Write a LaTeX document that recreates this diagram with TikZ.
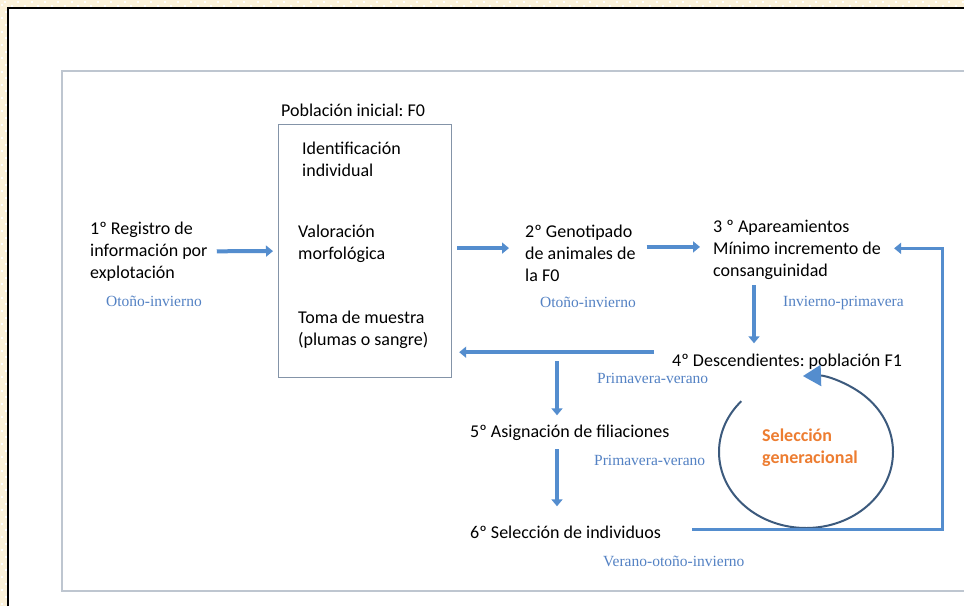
\documentclass[tikz,border=0pt]{standalone}
\usepackage{fontspec}
\setmainfont{Carlito}
\newfontfamily\tiempos{Liberation Serif}
\usetikzlibrary{arrows.meta, calc, positioning}
\frenchspacing

\definecolor{azulflecha}{RGB}{84,141,206}
\definecolor{azultexto}{RGB}{84,130,196}
\definecolor{naranja}{RGB}{237,125,49}
\definecolor{gris}{RGB}{132,148,168}
\definecolor{crema}{RGB}{252,242,218}
\definecolor{circulo}{RGB}{60,90,125}
\definecolor{marcoazul}{RGB}{190,198,208}

\tikzset{
  texto/.style={font=\fontsize{18}{22}\selectfont, inner sep=0pt, align=left, anchor=north west},
  linea/.style={font=\fontsize{18}{22}\selectfont, inner sep=0pt, anchor=base west},
  epoca/.style={font=\tiempos\fontsize{15.5}{18}\selectfont, text=azultexto, inner sep=0pt, anchor=base west},
  flecha/.style={draw=azulflecha, line width=4pt, -{Triangle[length=7pt,width=11pt]}},
  vuelta/.style={draw=azulflecha, line width=3.5pt, -{Triangle[length=7pt,width=11pt]}},
}

\begin{document}
\begin{tikzpicture}[x=1pt, y=-1pt]
  \useasboundingbox (0,0) rectangle (964,606);
  % fondo y marcos
  \fill[crema] (0,0) rectangle (964,606);
  \foreach \i in {0,...,72} {
    \fill[white] (\i*13.3+4,1) rectangle ++(2,2);
    \fill[white] (\i*13.3+10.6,5) rectangle ++(2,2);
  }
  \foreach \j in {0,...,45} {
    \fill[white] (1,\j*13.3+4) rectangle ++(2,2);
    \fill[white] (5,\j*13.3+10.6) rectangle ++(2,2);
  }
  \fill[white] (8,8) rectangle (964,606);
  \draw[black, line width=1.6pt] (8,606) -- (8,8) -- (964,8);
  \draw[marcoazul, line width=1.2pt] (964,71) -- (62,71) -- (62,591) -- (964,591);

  % poblacion inicial
  \node[linea] (pobltit) at (281,116) {Población inicial: F0};
  \node[draw=gris, line width=1.2pt, minimum width=173pt, minimum height=253pt,
        anchor=north west, inner sep=0pt] (pobl) at (278,124) {};
  \node[texto] (ident) at (302,142) {Identificación\\individual};
  \node[texto] (valor) at (298,225) {Valoración\\morfológica};
  \node[texto] (toma)  at (298,310.4) {Toma de muestra\\(plumas o sangre)};

  % pasos
  \node[texto] (reg)  at (90,221.4)  {1º Registro de\\información por\\explotación};
  \node[texto] (geno) at (525,224.4) {2º Genotipado\\de animales de\\la F0};
  \node[texto] (apar) at (713,220.4) {3 º Apareamientos\\Mínimo incremento de\\consanguinidad};
  \node[linea] (desc) at (672,366) {4º Descendientes: población F1};
  \node[linea] (asig) at (470,437) {5º Asignación de filiaciones};
  \node[linea] (sel6) at (470,538) {6º Selección de individuos};

  % epocas
  \node[epoca] (otono1)   at (106,306) {Otoño-invierno};
  \node[epoca] (otono2)   at (540,307) {Otoño-invierno};
  \node[epoca] (invprim)  at (783,306) {Invierno-primavera};
  \node[epoca] (privera1) at (597,383) {Primavera-verano};
  \node[epoca] (privera2) at (594,465) {Primavera-verano};
  \node[epoca] (veroto)   at (603,566) {Verano-otoño-invierno};

  % ciclo
  \coordinate (cen) at (806,452);
  \node[texto, font=\bfseries\fontsize{18}{22}\selectfont, text=naranja] (selgen) at (762,429) {Selección\\generacional};
  \draw[circulo, line width=2pt, -{Triangle[length=18pt,width=21pt,color=azulflecha]}]
    ($(cen)+(138:87pt and 76pt)$) arc[start angle=138, end angle=452, x radius=87pt, y radius=76pt];

  % flechas
  \draw[flecha, shorten <=9pt, shorten >=5pt] (reg.east) -- (pobl.west);
  \draw[flecha] ($(pobl.east)+(5,-3)$) -- ($(pobl.east -| geno.west)+(-16,-3)$);
  \draw[flecha] ($(geno.east)+(11,-6)$) -- ($(geno.east -| apar.west)+(-13,-6)$);
  \draw[flecha] ($(apar.south west)+(41,5)$) -- ($(apar.south west |- desc.north)+(41,-10)$);
  \draw[vuelta] ($(desc.west)+(-18,-9)$) -- ($(desc.west -| pobl.east)+(7,-9)$);
  \draw[flecha] ($(asig.west |- desc.west)+(87,0)$) -- ($(asig.north west)+(87,-9)$);
  \draw[flecha] ($(asig.south west)+(87,9)$) -- ($(sel6.north west)+(87,-19)$);
  \draw[vuelta, line width=3pt] ($(sel6.east)+(31,-2)$) -| ($(apar.east)+(61,-2)$) -- ($(apar.east)+(13,-2)$);
\end{tikzpicture}
\end{document}
